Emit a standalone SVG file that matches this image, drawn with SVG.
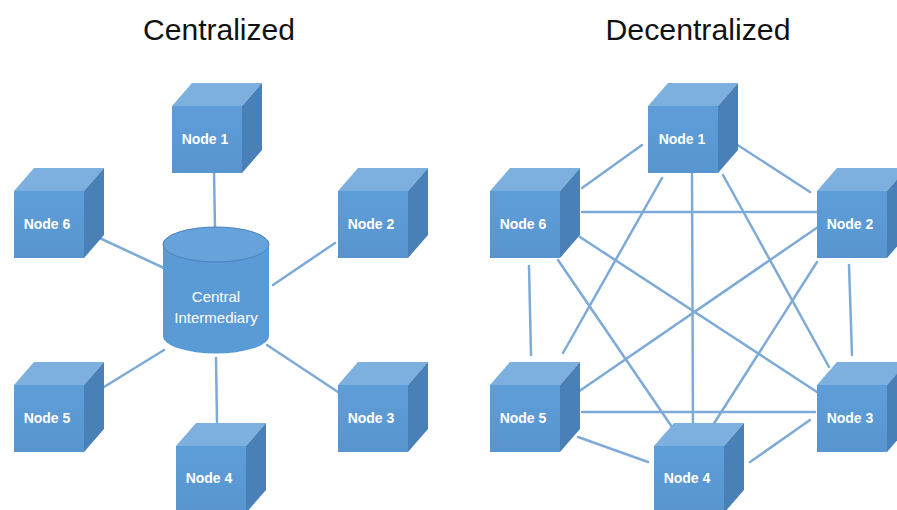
<svg xmlns="http://www.w3.org/2000/svg" xmlns:xlink="http://www.w3.org/1999/xlink" width="897" height="510" viewBox="0 0 897 510">
<style>
.title{font-family:"Liberation Sans","Noto Sans",sans-serif;font-size:29px;fill:#111;text-anchor:middle}
.lbl{font-family:"Liberation Sans","Noto Sans",sans-serif;font-size:14px;font-weight:bold;fill:#ffffff;text-anchor:middle}
.clbl{font-family:"Liberation Sans","Noto Sans",sans-serif;font-size:15px;fill:#ffffff;text-anchor:middle}
.conn line{stroke:#7eaad8;stroke-width:2.5;stroke-linecap:round}
.front{fill:#5b9bd5}
.top{fill:#7dafdf}
.side{fill:#4a80b8}
</style>
<defs>
<linearGradient id="fg" x1="0" y1="0" x2="0" y2="1">
<stop offset="0" stop-color="#5e9ed8"/>
<stop offset="1" stop-color="#5895cf"/>
</linearGradient>
<g id="cube">
<polygon class="top" points="0,0 20,-23 90,-23 70,0"/>
<polygon class="side" points="70,0 90,-23 90,44 70,67"/>
<rect x="0" y="0" width="70" height="67" fill="url(#fg)"/>
</g>
</defs>
<rect width="897" height="510" fill="#ffffff"/>
<text class="title" x="219" y="40" textLength="152" lengthAdjust="spacingAndGlyphs">Centralized</text>
<text class="title" x="698" y="40" textLength="185" lengthAdjust="spacingAndGlyphs">Decentralized</text>

<g id="connectors" class="conn">
<line x1="214" y1="172" x2="215" y2="228"/>
<line x1="93" y1="235" x2="164" y2="268"/>
<line x1="335" y1="243" x2="273" y2="285"/>
<line x1="104" y1="387" x2="164" y2="350"/>
<line x1="267" y1="345" x2="338" y2="392"/>
<line x1="216" y1="358" x2="217" y2="422"/>

<line x1="642" y1="145" x2="582" y2="188"/>
<line x1="733" y1="142" x2="810" y2="192"/>
<line x1="582" y1="212" x2="817" y2="212"/>
<line x1="662" y1="178" x2="563" y2="353"/>
<line x1="692" y1="173" x2="693" y2="432"/>
<line x1="723" y1="175" x2="829" y2="367"/>
<line x1="580" y1="237" x2="817" y2="392"/>
<line x1="558" y1="260" x2="672" y2="427"/>
<line x1="818" y1="227" x2="578" y2="392"/>
<line x1="817" y1="262" x2="713" y2="425"/>
<line x1="529" y1="266" x2="531" y2="355"/>
<line x1="849" y1="265" x2="852" y2="355"/>
<line x1="582" y1="412" x2="815" y2="412"/>
<line x1="578" y1="437" x2="648" y2="462"/>
<line x1="810" y1="420" x2="750" y2="462"/>
</g>

<g id="central-intermediary">
<path d="M163,244 L163,336 A53,17.5 0 0 0 269,336 L269,244 Z" fill="#5b9bd5"/>
<ellipse cx="216" cy="244.5" rx="53" ry="17.5" fill="#66a3db" stroke="#4a82ba" stroke-width="1"/>
<text class="clbl" x="216" y="302">Central</text>
<text class="clbl" x="216" y="323">Intermediary</text>
</g>

<g id="c-node1"><use xlink:href="#cube" x="172" y="106"/><text class="lbl" x="205" y="144">Node 1</text></g>
<g id="c-node6"><use xlink:href="#cube" x="14" y="191"/><text class="lbl" x="47" y="229">Node 6</text></g>
<g id="c-node2"><use xlink:href="#cube" x="338" y="191"/><text class="lbl" x="371" y="229">Node 2</text></g>
<g id="c-node5"><use xlink:href="#cube" x="14" y="385"/><text class="lbl" x="47" y="423">Node 5</text></g>
<g id="c-node3"><use xlink:href="#cube" x="338" y="385"/><text class="lbl" x="371" y="423">Node 3</text></g>
<g id="c-node4"><use xlink:href="#cube" x="176" y="446"/><text class="lbl" x="209" y="483">Node 4</text></g>

<g id="d-node1"><use xlink:href="#cube" x="648" y="106"/><text class="lbl" x="682" y="144">Node 1</text></g>
<g id="d-node6"><use xlink:href="#cube" x="490" y="191"/><text class="lbl" x="523" y="229">Node 6</text></g>
<g id="d-node2"><use xlink:href="#cube" x="817" y="191"/><text class="lbl" x="850" y="229">Node 2</text></g>
<g id="d-node5"><use xlink:href="#cube" x="490" y="385"/><text class="lbl" x="523" y="423">Node 5</text></g>
<g id="d-node3"><use xlink:href="#cube" x="817" y="385"/><text class="lbl" x="850" y="423">Node 3</text></g>
<g id="d-node4"><use xlink:href="#cube" x="654" y="446"/><text class="lbl" x="687" y="483">Node 4</text></g>
</svg>
